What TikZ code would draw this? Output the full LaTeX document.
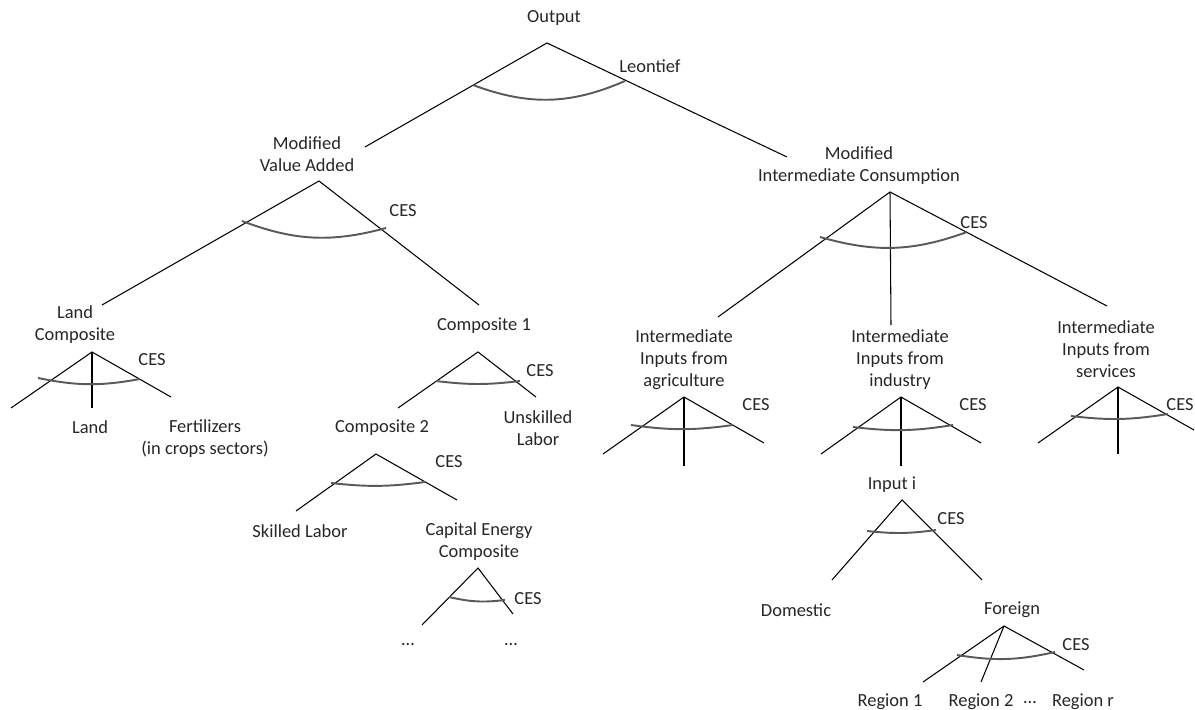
\documentclass[tikz,border=0pt]{standalone}
\usepackage{fontspec}
\setmainfont{Carlito}
\begin{document}
\begin{tikzpicture}[x=0.2mm,y=-0.2mm,
	lbl/.style={inner sep=0pt, align=center, text=black!85, font=\fontsize{10.5}{12.5}\selectfont},
	branch/.style={line width=0.6pt},
	cesarc/.style={line width=1.1pt, draw=black!65}]
	\useasboundingbox (0,0) rectangle (1195,710);

	% labels
	\node[lbl] (output) at (554,18) {Output};
	\node[lbl] (leontief) at (650,66) {Leontief};
	\node[lbl] (va) at (307,154) {Modified\\Value Added};
	\node[lbl] (mic) at (859,166) {Modified\\Intermediate Consumption};
	\node[lbl] (land) at (75,325) {Land\\Composite};
	\node[lbl] (compA) at (484,326) {Composite 1};
	\node[lbl] (landB) at (90,427) {Land};
	\node[lbl] (fert) at (205,439) {Fertilizers\\(in crops sectors)};
	\node[lbl] (unsk) at (538,428) {Unskilled\\Labor};
	\node[lbl] (compB) at (382,428) {Composite 2};
	\node[lbl] (skl) at (300,531) {Skilled Labor};
	\node[lbl] (ce) at (479,542) {Capital Energy\\Composite};
	\node[lbl] (ceDotsL) at (408,645) {\ldots};
	\node[lbl] (ceDotsR) at (511,645) {\ldots};
	\node[lbl] (agri) at (684,360) {Intermediate\\Inputs from\\agriculture};
	\node[lbl] (ind) at (900,360) {Intermediate\\Inputs from\\industry};
	\node[lbl] (serv) at (1106,349) {Intermediate\\Inputs from\\services};
	\node[lbl] (inp) at (892,485) {Input i};
	\node[lbl] (dom) at (796,610) {Domestic};
	\node[lbl] (forg) at (1012,610) {Foreign};
	\node[lbl] (regA) at (890,702) {Region 1};
	\node[lbl] (regB) at (981,702) {Region 2};
	\node[lbl] (regDots) at (1030,703) {\ldots};
	\node[lbl] (regR) at (1083,702) {Region r};

	% CES labels
	\node[lbl] (cesVA) at (403,211) {CES};
	\node[lbl] (cesMIC) at (974,223) {CES};
	\node[lbl] (cesLand) at (152,360) {CES};
	\node[lbl] (cesA) at (540,371) {CES};
	\node[lbl] (cesB) at (449,462) {CES};
	\node[lbl] (cesCE) at (528,599) {CES};
	\node[lbl] (cesAgri) at (756,405) {CES};
	\node[lbl] (cesInd) at (973,405) {CES};
	\node[lbl] (cesServ) at (1180,405) {CES};
	\node[lbl] (cesInp) at (951,519) {CES};
	\node[lbl] (cesForg) at (1076,645) {CES};

	% branch points
	\coordinate (outTop) at (547,43);
	\coordinate (outL) at (365,147);
	\coordinate (outR) at (787,157);
	\coordinate (outArcL) at (473,85);
	\coordinate (outArcR) at (625,81);

	\coordinate (vaTop) at (319,181);
	\coordinate (vaL) at (102,305);
	\coordinate (vaR) at (479,305);
	\coordinate (vaArcL) at (242,221);
	\coordinate (vaArcR) at (386,228);

	\coordinate (landTop) at (92,352);
	\coordinate (landL) at (11,408);
	\coordinate (landM) at (92,408);
	\coordinate (landR) at (171,397);
	\coordinate (landArcL) at (38,378);
	\coordinate (landArcR) at (140,379);

	\coordinate (compATop) at (478,352);
	\coordinate (compAL) at (398,408);
	\coordinate (compAR) at (536,397);
	\coordinate (compAArcL) at (436,381);
	\coordinate (compAArcR) at (520,381);

	\coordinate (compBTop) at (376,454);
	\coordinate (compBL) at (296,511);
	\coordinate (compBR) at (457,500);
	\coordinate (compBArcL) at (331,483);
	\coordinate (compBArcR) at (425,482);

	\coordinate (ceTop) at (478,568);
	\coordinate (ceL) at (422,625);
	\coordinate (ceR) at (513,614);
	\coordinate (ceArcL) at (449,597);
	\coordinate (ceArcR) at (505,600);

	\coordinate (micTop) at (890,192);
	\coordinate (micL) at (718,317);
	\coordinate (micM) at (891,325);
	\coordinate (micR) at (1107,306);
	\coordinate (micArcL) at (820,237);
	\coordinate (micArcR) at (967,232);

	\coordinate (agriTop) at (684,397);
	\coordinate (agriL) at (603,454);
	\coordinate (agriM) at (684,466);
	\coordinate (agriR) at (764,443);
	\coordinate (agriArcL) at (631,425);
	\coordinate (agriArcR) at (733,425);

	\coordinate (indTop) at (901,397);
	\coordinate (indL) at (821,454);
	\coordinate (indM) at (901,466);
	\coordinate (indR) at (981,443);
	\coordinate (indArcL) at (853,427);
	\coordinate (indArcR) at (953,425);

	\coordinate (servTop) at (1118,387);
	\coordinate (servL) at (1038,443);
	\coordinate (servM) at (1118,454);
	\coordinate (servR) at (1194,430);
	\coordinate (servArcL) at (1071,416);
	\coordinate (servArcR) at (1168,414);

	\coordinate (inpTop) at (902,500);
	\coordinate (inpL) at (832,580);
	\coordinate (inpR) at (982,580);
	\coordinate (inpArcL) at (867,531);
	\coordinate (inpArcR) at (936,530);

	\coordinate (forgTop) at (1004,626);
	\coordinate (forgL) at (923,682);
	\coordinate (forgM) at (981,682);
	\coordinate (forgR) at (1084,670);
	\coordinate (forgArcL) at (957,655);
	\coordinate (forgArcR) at (1055,652);

	% branches
	\draw[branch] (outL) -- (outTop) -- (outR);
	\draw[branch] (vaL) -- (vaTop) -- (vaR);
	\draw[branch] (landL) -- (landTop) -- (landR);
	\draw[branch] (landTop) -- (landM);
	\draw[branch] (compAL) -- (compATop) -- (compAR);
	\draw[branch] (compBL) -- (compBTop) -- (compBR);
	\draw[branch] (ceL) -- (ceTop) -- (ceR);
	\draw[branch] (micL) -- (micTop) -- (micR);
	\draw[branch] (micTop) -- (micM);
	\draw[branch] (agriL) -- (agriTop) -- (agriR);
	\draw[branch] (agriTop) -- (agriM);
	\draw[branch] (indL) -- (indTop) -- (indR);
	\draw[branch] (indTop) -- (indM);
	\draw[branch] (servL) -- (servTop) -- (servR);
	\draw[branch] (servTop) -- (servM);
	\draw[branch] (inpL) -- (inpTop) -- (inpR);
	\draw[branch] (forgL) -- (forgTop) -- (forgR);
	\draw[branch] (forgTop) -- (forgM);

	% elasticity arcs
	\draw[cesarc] (outArcL) to[bend right=22] (outArcR);
	\draw[cesarc] (vaArcL) to[bend right=18] (vaArcR);
	\draw[cesarc] (landArcL) to[bend right=11] (landArcR);
	\draw[cesarc] (compAArcL) to[bend right=7] (compAArcR);
	\draw[cesarc] (compBArcL) to[bend right=7] (compBArcR);
	\draw[cesarc] (ceArcL) to[bend right=10] (ceArcR);
	\draw[cesarc] (micArcL) to[bend right=18] (micArcR);
	\draw[cesarc] (agriArcL) to[bend right=8] (agriArcR);
	\draw[cesarc] (indArcL) to[bend right=8] (indArcR);
	\draw[cesarc] (servArcL) to[bend right=8] (servArcR);
	\draw[cesarc] (inpArcL) to[bend right=7] (inpArcR);
	\draw[cesarc] (forgArcL) to[bend right=11] (forgArcR);
\end{tikzpicture}
\end{document}
